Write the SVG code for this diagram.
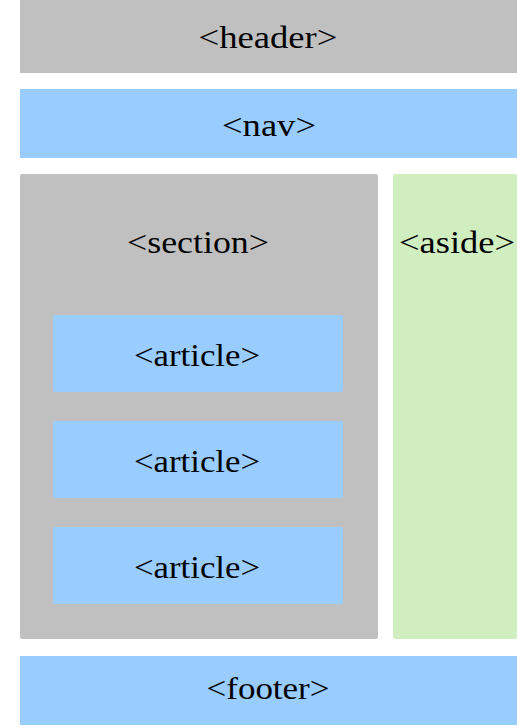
<svg xmlns="http://www.w3.org/2000/svg" width="517" height="726" viewBox="0 0 517 726">
<style>
.g{fill:#c0c0c0}
.b{fill:#99ccff}
.gr{fill:#d0eec0}
text{font-family:"Liberation Serif","DejaVu Serif",serif;font-size:31px;fill:#000;text-anchor:middle}
</style>
<rect width="517" height="726" fill="#fff"/>
<g id="header"><rect class="g" x="20" y="0" width="497" height="73"/><text x="268" y="48" textLength="139" lengthAdjust="spacingAndGlyphs">&lt;header&gt;</text></g>
<g id="nav"><rect class="b" x="20" y="89" width="497" height="69"/><text x="269" y="136" textLength="94" lengthAdjust="spacingAndGlyphs">&lt;nav&gt;</text></g>
<g id="section"><rect class="g" x="20" y="174" width="358" height="465" rx="2"/><text x="198" y="253" textLength="142" lengthAdjust="spacingAndGlyphs">&lt;section&gt;</text></g>
<g id="aside"><rect class="gr" x="393" y="174" width="124" height="465" rx="2"/><text x="457" y="253" textLength="116" lengthAdjust="spacingAndGlyphs">&lt;aside&gt;</text></g>
<g id="article1"><rect class="b" x="53" y="315" width="290" height="77" rx="2"/><text x="197" y="366" textLength="126" lengthAdjust="spacingAndGlyphs">&lt;article&gt;</text></g>
<g id="article2"><rect class="b" x="53" y="421" width="290" height="77" rx="2"/><text x="197" y="472" textLength="126" lengthAdjust="spacingAndGlyphs">&lt;article&gt;</text></g>
<g id="article3"><rect class="b" x="53" y="527" width="290" height="77" rx="2"/><text x="197" y="578" textLength="126" lengthAdjust="spacingAndGlyphs">&lt;article&gt;</text></g>
<g id="footer"><rect class="b" x="20" y="656" width="497" height="69"/><text x="268" y="699" textLength="123" lengthAdjust="spacingAndGlyphs">&lt;footer&gt;</text></g>
<g id="connectors"/>
</svg>
